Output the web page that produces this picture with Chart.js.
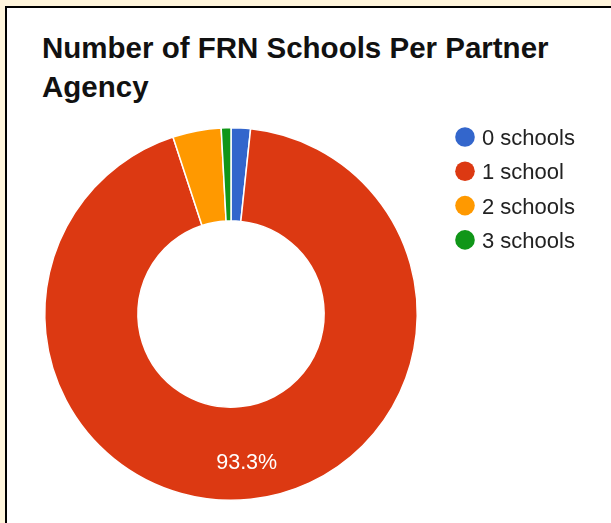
<!DOCTYPE html>
<html>
<head>
<meta charset="utf-8">
<script src="https://cdn.jsdelivr.net/npm/chart.js@4/dist/chart.umd.min.js"></script>
<style>
    body { margin:0; background:#fff5dc; overflow:hidden; font-family:"Liberation Sans", Arial, sans-serif; }
    #frame { position:absolute; left:5px; top:6px; width:700px; height:600px; background:#fff; border-left:2px solid #000; border-top:2px solid #000; }
    #title_name { position:absolute; left:42px; top:28px; font-size:29.5px; line-height:39px; font-weight:bold; color:#111; width:560px; }
    #myChart { position:absolute; left:0; top:0; }
</style>
</head>
<body>
<div id="frame"></div>
<div id="title_name">Number of FRN Schools Per Partner<br>Agency</div>
<canvas id="myChart" width="611" height="523"></canvas>
<script>
let categories = ['0 schools', '1 school', '2 schools', '3 schools'];
let agencies = [2, 111, 5, 1];
let colors = ['#3366cc', '#dc3912', '#ff9900', '#109618'];

// legend on the right, google charts style
let sideLegend = {
    id: 'sideLegend',
    afterDraw: function(chart){
        let ctx = chart.ctx;
        ctx.save();
        ctx.font = '22px "Liberation Sans", Arial, sans-serif';
        ctx.textBaseline = 'alphabetic';
        chart.data.labels.forEach(function(label, i){
            let y = 137 + i * 34.3;
            ctx.beginPath();
            ctx.fillStyle = chart.data.datasets[0].backgroundColor[i];
            ctx.arc(465, y, 9.8, 0, Math.PI * 2);
            ctx.fill();
            ctx.fillStyle = '#222';
            ctx.fillText(label, 482, y + 8);
        });
        ctx.restore();
    }
};

// percent text inside the big slices
let sliceText = {
    id: 'sliceText',
    afterDatasetsDraw: function(chart){
        let ctx = chart.ctx;
        let meta = chart.getDatasetMeta(0);
        let data = chart.data.datasets[0].data;
        let total = data.reduce(function(a, b){ return a + b; }, 0);
        ctx.save();
        ctx.font = '21.5px "Liberation Sans", Arial, sans-serif';
        ctx.fillStyle = '#fff';
        ctx.textAlign = 'center';
        ctx.textBaseline = 'middle';
        meta.data.forEach(function(arc, i){
            let pct = data[i] / total * 100;
            if(pct < 10) return;
            let p = arc.getProps(['x', 'y', 'startAngle', 'endAngle', 'innerRadius', 'outerRadius'], true);
            let mid = (p.startAngle + p.endAngle) / 2;
            let r = p.innerRadius + (p.outerRadius - p.innerRadius) * 0.6;
            ctx.fillText(pct.toFixed(1) + '%', p.x + Math.cos(mid) * r, p.y + Math.sin(mid) * r + 1);
        });
        ctx.restore();
    }
};

let ctx = document.getElementById('myChart');
let myChart = new Chart(ctx, {
    type: 'doughnut',
    data: {
        labels: categories,
        datasets: [{
            data: agencies,
            backgroundColor: colors,
            borderColor: '#fff',
            borderWidth: 1.5
        }]
    },
    options: {
        responsive: false,
        animation: false,
        cutout: '50%',
        layout: { padding: { left: 44, right: 193, top: 127, bottom: 22 } },
        plugins: {
            legend: { display: false },
            tooltip: { enabled: false }
        },
        events: []
    },
    plugins: [sideLegend, sliceText]
});
</script>
</body>
</html>
